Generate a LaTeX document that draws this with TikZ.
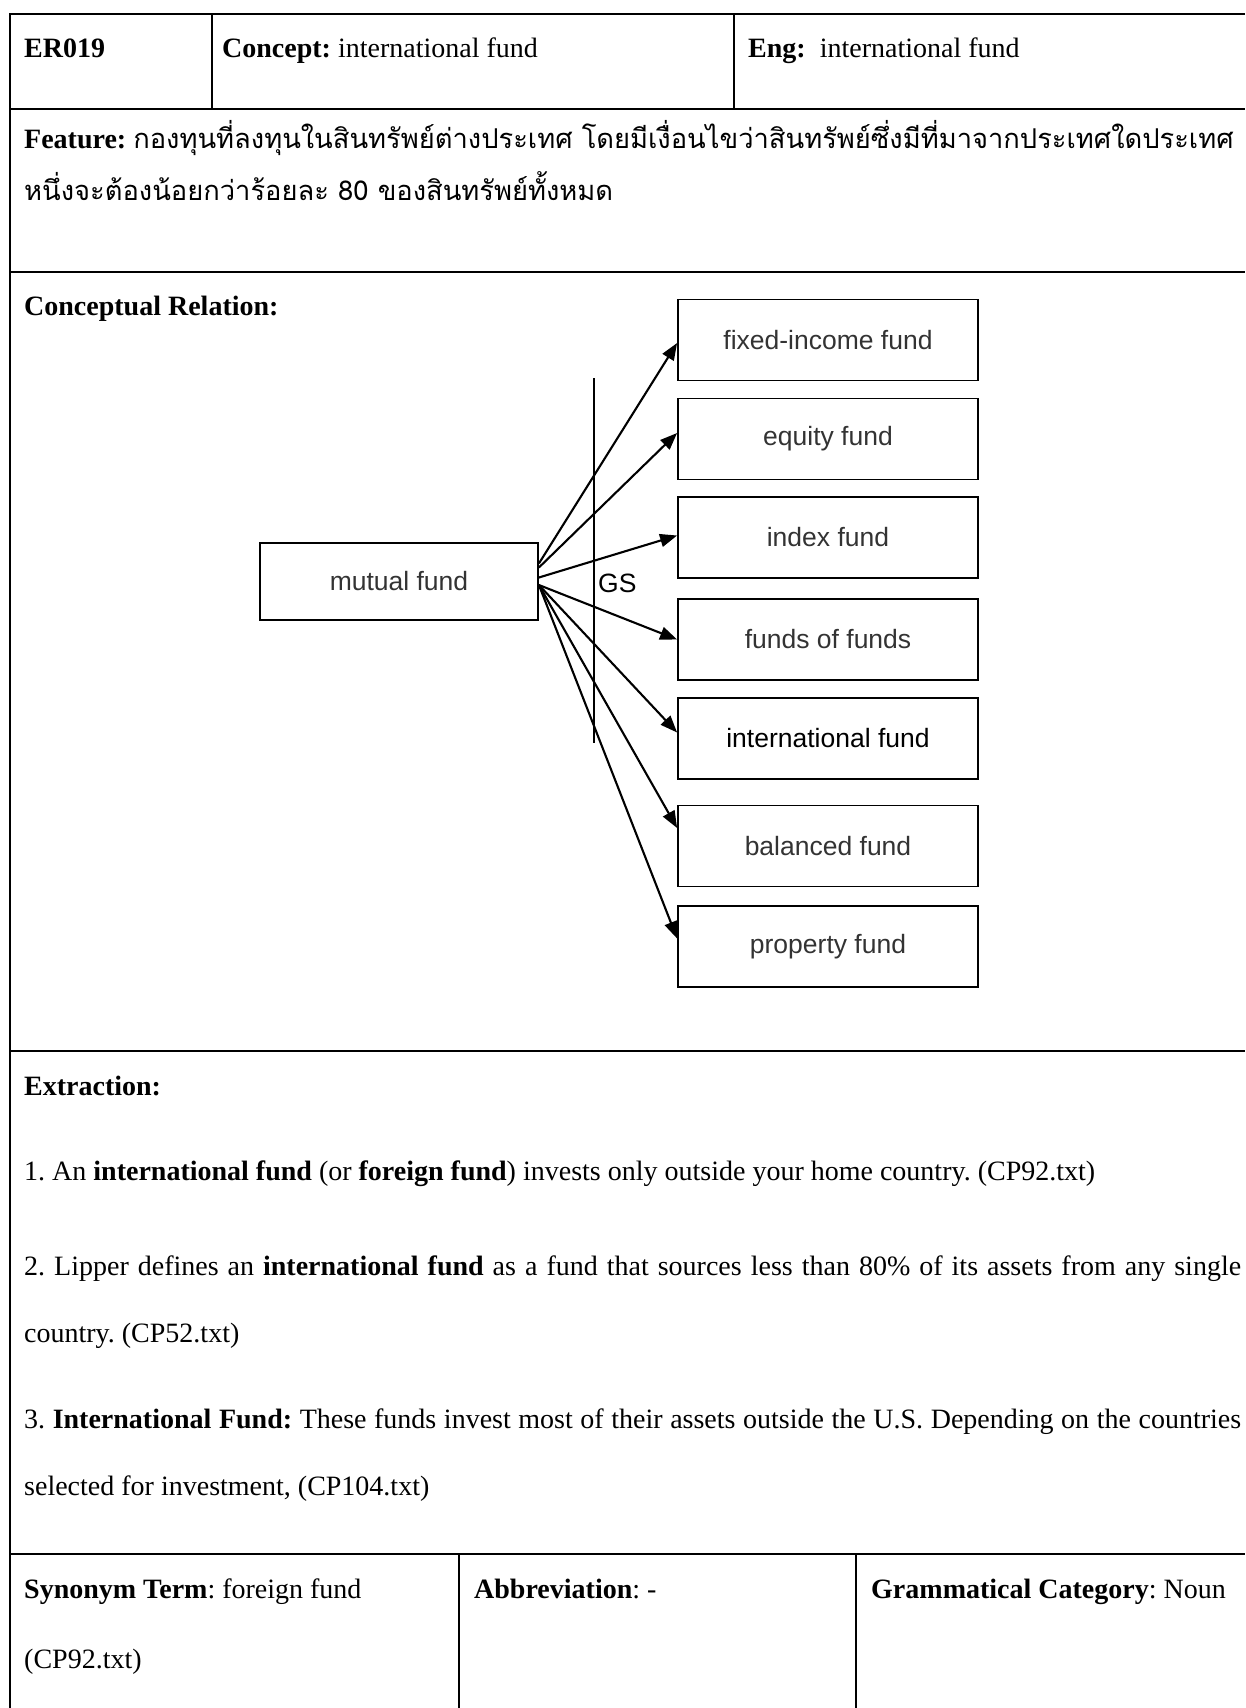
\documentclass[tikz,border=0pt]{standalone}
\usepackage{fontspec}
\setmainfont{Liberation Serif}
\newfontfamily\thaifont[Script=Thai]{Loma}
\newfontfamily\boxfont{Liberation Sans}
\usetikzlibrary{arrows.meta}
\frenchspacing
\begin{document}
\begin{tikzpicture}[x=1pt,y=-1pt,
  rule/.style={line width=2.2pt},
  txt/.style={anchor=base west, inner sep=0pt, font=\fontsize{28}{32}\selectfont},
  thai/.style={anchor=base west, inner sep=0pt, font=\thaifont\fontsize{27.3}{32}\selectfont},
  fundbox/.style={draw, line width=1.8pt, minimum width=300pt, minimum height=81pt,
    inner sep=0pt, font=\boxfont\fontsize{26.5}{30}\selectfont, text=black!80},
  isa/.style={line width=2.1pt, -{Triangle[length=17pt,width=13pt]}}
]
\useasboundingbox (0,0) rectangle (1245,1708);

% table frame
\draw[rule] (1245,14) -- (10,14) -- (10,1708);
\draw[rule] (10,109) -- (1245,109);
\draw[rule] (10,272) -- (1245,272);
\draw[rule] (10,1051) -- (1245,1051);
\draw[rule] (10,1554) -- (1245,1554);
\draw[rule] (212,14) -- (212,109);
\draw[rule] (734,14) -- (734,109);
\draw[rule] (459,1554) -- (459,1708);
\draw[rule] (856,1554) -- (856,1708);

% header row
\node[txt] (id) at (24,57) {\textbf{ER019}};
\node[txt] (concept) at (222,57) {\textbf{Concept:} international fund};
\node[txt] (eng) at (748,57) {\textbf{Eng:} \ international fund};

% feature row
\node[txt] (feat) at (24,148) {\textbf{Feature:} {\thaifont\fontsize{27.3}{32}\selectfont กองทุนที่ลงทุนในสินทรัพย์ต่างประเทศ โดยมีเงื่อนไขว่าสินทรัพย์ซึ่งมีที่มาจากประเทศใดประเทศ}};
\node[thai] (feat2) at (24,200) {หนึ่งจะต้องน้อยกว่าร้อยละ 80 ของสินทรัพย์ทั้งหมด};

% conceptual relation
\node[txt] (cr) at (24,315) {\textbf{Conceptual Relation:}};

\node[fundbox, minimum width=278pt, minimum height=77pt] (mf) at (399,581.5) {mutual fund};
\node[fundbox] (b1) at (828,340) {fixed-income fund};
\node[fundbox] (b2) at (828,439) {equity fund};
\node[fundbox] (b3) at (828,537.5) {index fund};
\node[fundbox] (b4) at (828,639.5) {funds of funds};
\node[fundbox, text=black] (b5) at (828,738.5) {international fund};
\node[fundbox] (b6) at (828,846) {balanced fund};
\node[fundbox] (b7) at (828,946.5) {property fund};

\coordinate (gsTop) at (594,378);
\coordinate (gsBot) at (594,743);
\draw[line width=1.4pt] (gsTop) -- (gsBot);
\node[anchor=west, inner sep=0pt, font=\boxfont\fontsize{26.5}{30}\selectfont] (gs) at (598,583) {GS};

\draw[isa] ([yshift=18pt]mf.east) -- ([yshift=-3pt]b1.west);
\draw[isa] ([yshift=14pt]mf.east) -- ([yshift=6pt]b2.west);
\draw[isa] ([yshift=4pt]mf.east) -- ([yshift=2pt]b3.west);
\draw[isa] ([yshift=-3.5pt]mf.east) -- (b4.west);
\draw[isa] ([yshift=-3.5pt]mf.east) -- ([yshift=6pt]b5.west);
\draw[isa] ([yshift=-3.5pt]mf.east) -- ([yshift=18pt]b6.west);
\draw[isa] ([yshift=-3.5pt]mf.east) -- ([yshift=8pt]b7.west);

% extraction
\node[txt] (ex) at (24,1095) {\textbf{Extraction:}};
\node[txt] (e1) at (24,1180) {1. An \textbf{international fund} (or \textbf{foreign fund}) invests only outside your home country. (CP92.txt)};
\node[txt] (e2) at (24,1275) {\hbox to 1217pt{2. Lipper defines an \textbf{international fund} as a fund that sources less than 80\% of its assets from any single}};
\node[txt] (e2b) at (24,1342) {country. (CP52.txt)};
\node[txt] (e3) at (24,1428) {\hbox to 1217pt{3. \textbf{International Fund:} These funds invest most of their assets outside the U.S. Depending on the countries}};
\node[txt] (e3b) at (24,1495) {selected for investment, (CP104.txt)};

% bottom row
\node[txt] (syn) at (24,1598) {\textbf{Synonym Term}: foreign fund};
\node[txt] (syn2) at (24,1668) {(CP92.txt)};
\node[txt] (abbr) at (474,1598) {\textbf{Abbreviation}: -};
\node[txt] (gram) at (871,1598) {\textbf{Grammatical Category}: Noun};
\end{tikzpicture}
\end{document}
